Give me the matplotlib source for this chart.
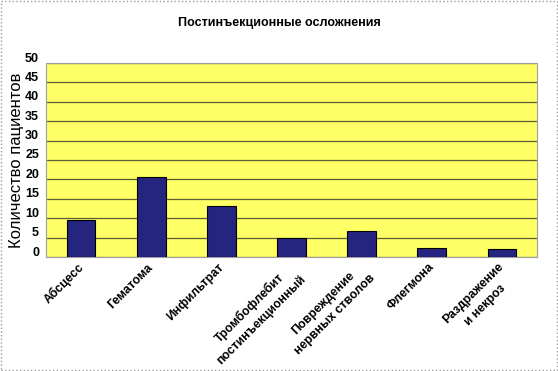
import matplotlib.pyplot as plt
from matplotlib.patches import Rectangle
import matplotlib.transforms as mtransforms

# Data
categories = ["Абсцесс", "Гематома", "Инфильтрат", "Тромбофлебит\nпостинъекционный",
              "Повреждение\nнервных стволов", "Флегмона", "Раздражение\nи некроз"]
patients = [9.5, 20.5, 13.1, 4.8, 6.6, 2.4, 2.0]
y_ticks = [0, 5, 10, 15, 20, 25, 30, 35, 40, 45, 50]

plt.rcParams["font.family"] = ["Liberation Sans", "DejaVu Sans"]

fig = plt.figure(figsize=(5.58, 3.71), dpi=100)
ax = fig.add_axes([46 / 558, 1 - 257 / 371, 491 / 558, 194 / 371])

x = range(len(categories))
ax.bar(x, patients, width=0.41, color="#25257f", edgecolor="black", linewidth=0.8, zorder=3)

ax.set_facecolor("#ffff66")
ax.set_xlim(-0.5, len(categories) - 0.5)
ax.set_ylim(0, 50)
ax.set_yticks(y_ticks)
ax.set_yticklabels([str(v) for v in y_ticks], fontsize=9, fontweight="bold",
                   family=["Liberation Sans Narrow", "Liberation Sans"])
ax.yaxis.grid(True, color="#5c5c34", linewidth=0.9, zorder=1)
ax.tick_params(axis="y", length=0, pad=5)
ax.tick_params(axis="x", length=0, pad=3)

# tick labels in the original sit a bit above their gridlines
offset = mtransforms.ScaledTranslation(0, 6 / 100, fig.dpi_scale_trans)
for lbl in ax.get_yticklabels():
    lbl.set_transform(lbl.get_transform() + offset)

ax.set_xticks(list(x))
ax.set_xticklabels(categories, rotation=45, ha="right", va="top", rotation_mode="anchor",
                   fontsize=8.8, fontweight="bold", multialignment="center", linespacing=1.4)
xshift = mtransforms.ScaledTranslation(-4 / 100, 0, fig.dpi_scale_trans)
for lbl in ax.get_xticklabels():
    lbl.set_transform(lbl.get_transform() + xshift)

for spine in ax.spines.values():
    spine.set_color("#a0a0a0")
    spine.set_linewidth(0.8)

ax.set_ylabel("Количество пациентов", fontsize=12)
ax.yaxis.set_label_coords(-0.045, 0.5)

fig.text(0.5, 1 - 23 / 371, "Постинъекционные осложнения", ha="center", va="center",
         fontsize=9, fontweight="bold")

# dotted frame around the whole picture
fig.patches.append(Rectangle((0.002, 0.003), 0.996, 0.994, transform=fig.transFigure,
                             fill=False, edgecolor="#999999", linestyle=":", linewidth=1))

fig.savefig("out.png", dpi=100)
